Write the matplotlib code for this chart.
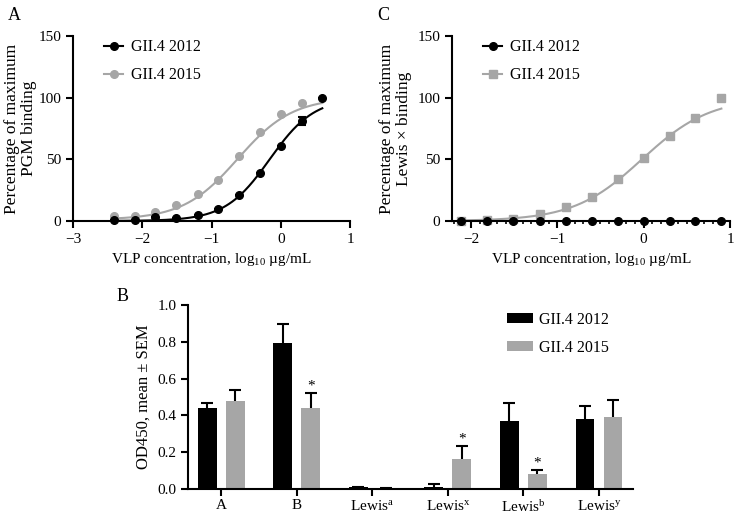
import matplotlib
matplotlib.use('Agg')
import matplotlib.pyplot as plt
import numpy as np

plt.rcParams['font.family'] = ['Liberation Serif', 'DejaVu Serif']
plt.rcParams['mathtext.fontset'] = 'custom'
plt.rcParams['mathtext.rm'] = 'Liberation Serif'
plt.rcParams['mathtext.it'] = 'Liberation Serif:italic'
plt.rcParams['font.size'] = 11

BLACK = '#000000'
GREY = '#a6a6a6'

# panel A: PGM binding
xa = [-2.41, -2.11, -1.81, -1.51, -1.20, -0.90, -0.60, -0.30, 0.0, 0.30, 0.60]
a_2012 = [1.1, 1.1, 3.2, 2.7, 5.1, 10.0, 21.4, 38.9, 60.5, 81.0, 99.5]
a_2012_err = [0, 0, 0, 0, 0, 0, 0, 0, 0, 3.0, 0]
xa_2015 = xa[:10]
a_2015 = [3.8, 4.0, 7.3, 12.7, 21.6, 33.5, 53.0, 72.0, 86.5, 95.7]

# panel C: Lewis x binding
xc = [-2.11, -1.81, -1.51, -1.20, -0.90, -0.60, -0.30, 0.0, 0.30, 0.60, 0.90]
c_2012 = [0, 0, 0, 0, 0, 0, 0, 0, 0, 0, 0]
c_2015 = [0.3, 1.0, 2.0, 6.0, 11.4, 19.5, 34.0, 51.0, 68.6, 83.8, 99.5]

# curve fits (bottom, top, logEC50, hill slope)
fit_a_2012 = (0, 100, -0.16, 1.35)
fit_a_2015 = (1, 100, -0.62, 1.1)
fit_c_2015 = (0, 100, -0.02, 1.1)

# panel B: OD450
groups = ['A', 'B', r'$\mathregular{Lewis^{a}}$', r'$\mathregular{Lewis^{x}}$',
          r'$\mathregular{Lewis^{b}}$', r'$\mathregular{Lewis^{y}}$']
b_2012 = [0.44, 0.796, 0.009, 0.013, 0.369, 0.38]
b_2012_sem = [0.025, 0.103, 0.004, 0.012, 0.099, 0.072]
b_2015 = [0.476, 0.44, 0.004, 0.163, 0.083, 0.389]
b_2015_sem = [0.063, 0.081, 0.001, 0.068, 0.02, 0.096]
signif = [False, True, False, True, True, False]


def hill(x, p):
    bot, top, ec50, h = p
    return bot + (top - bot) / (1 + 10 ** ((ec50 - x) * h))


def style_ax(ax):
    for s in ['top', 'right']:
        ax.spines[s].set_visible(False)
    for s in ['left', 'bottom']:
        ax.spines[s].set_linewidth(1.5)
    ax.tick_params(width=1.5, length=5, labelsize=11)


def up_err(ax, x, y, err):
    # one-sided (upper) error bar, cap only on top
    eb = ax.errorbar(x, y, yerr=[np.zeros(len(err)), err], fmt='none',
                     ecolor=BLACK, elinewidth=1.5, capsize=4, capthick=1.5)
    eb[1][0].set_visible(False)


fig = plt.figure(figsize=(7.35, 5.15), dpi=100)

# ---- A
axA = fig.add_axes([73/735, 1 - 221/515, 277/735, 185/515])
xx = np.linspace(min(xa), max(xa), 200)
axA.plot(xx, hill(xx, fit_a_2015), color=GREY, lw=1.5)
axA.plot(xx, hill(xx, fit_a_2012), color=BLACK, lw=1.5)
axA.errorbar(xa_2015, a_2015, fmt='o', color=GREY, ms=5.5)
axA.errorbar(xa, a_2012, yerr=a_2012_err, fmt='o', color=BLACK, ms=5.5,
             capsize=3, elinewidth=1.5, capthick=1.5)
axA.plot([], [], '-o', color=BLACK, ms=5.5, lw=1.5, label='GII.4 2012')
axA.plot([], [], '-o', color=GREY, ms=5.5, lw=1.5, label='GII.4 2015')
axA.set_xlim(-3, 1)
axA.set_ylim(0, 150)
axA.set_xticks([-3, -2, -1, 0, 1])
axA.set_xticklabels(['\u22123', '\u22122', '\u22121', '0', '1'])
axA.set_yticks([0, 50, 100, 150])
axA.set_xlabel('VLP concentration, log$_{10}$ \u00b5g/mL', fontsize=11)
axA.set_ylabel('Percentage of maximum\nPGM binding', fontsize=12.5,
               linespacing=1.05, labelpad=1)
h, l = axA.get_legend_handles_labels()
axA.legend(h, l, loc='upper left', bbox_to_anchor=(0.06, 1.06), frameon=False,
           handlelength=1.2, labelspacing=0.75, fontsize=11.5, handletextpad=0.5)
style_ax(axA)
for c in axA.collections + axA.lines:
    c.set_clip_on(False)

# ---- C
axC = fig.add_axes([452/735, 1 - 221/515, 278/735, 185/515])
xx = np.linspace(min(xc), max(xc), 200)
axC.plot(xx, hill(xx, fit_c_2015), color=GREY, lw=1.5)
axC.plot(xc, c_2015, 's', color=GREY, ms=5.5, clip_on=False)
axC.plot(xc, c_2012, 'o', color=BLACK, ms=5.5, clip_on=False)
axC.plot([], [], '-o', color=BLACK, ms=5.5, lw=1.5, label='GII.4 2012')
axC.plot([], [], '-s', color=GREY, ms=5.5, lw=1.5, label='GII.4 2015')
axC.set_xlim(-2.22, 1.0)
axC.set_ylim(0, 150)
axC.set_xticks([-2, -1, 0, 1])
axC.set_xticklabels(['\u22122', '\u22121', '0', '1'])
axC.set_xticks(np.arange(-2.2, 1.01, 0.1), minor=True)
axC.set_yticks([0, 50, 100, 150])
axC.set_xlabel('VLP concentration, log$_{10}$ \u00b5g/mL', fontsize=11)
axC.set_ylabel('Percentage of maximum\nLewis \u00d7 binding', fontsize=12.5,
               linespacing=1.05)
axC.legend(loc='upper left', bbox_to_anchor=(0.06, 1.06), frameon=False,
           handlelength=1.2, labelspacing=0.75, fontsize=11.5, handletextpad=0.5)
style_ax(axC)
axC.tick_params(which='minor', length=2.5, width=1.2)

# ---- B
axB = fig.add_axes([188/735, 1 - 489/515, 445/735, 184/515])
pos = np.arange(len(groups))
w = 0.25
off = 0.185
axB.bar(pos - off, b_2012, w, color=BLACK, label='GII.4 2012')
axB.bar(pos + off, b_2015, w, color=GREY, label='GII.4 2015')
up_err(axB, pos - off, b_2012, b_2012_sem)
up_err(axB, pos + off, b_2015, b_2015_sem)
for i in range(len(pos)):
    if signif[i]:
        axB.text(pos[i] + off, b_2015[i] + b_2015_sem[i] + 0.005, '*',
                 ha='center', va='bottom', fontsize=11)
axB.set_xlim(-0.44, 5.45)
axB.set_ylim(0, 1.0)
axB.set_xticks(pos)
axB.set_xticklabels(groups)
axB.set_yticks(np.arange(0, 1.01, 0.2))
axB.set_yticklabels(['%.1f' % v for v in np.arange(0, 1.01, 0.2)])
axB.set_ylabel('OD450, mean \u00b1 SEM', fontsize=12)
axB.legend(loc='upper left', bbox_to_anchor=(0.685, 1.04), frameon=False,
           handlelength=1.6, handleheight=0.6, labelspacing=0.75, fontsize=11.5,
           handletextpad=0.4)
style_ax(axB)
axB.tick_params(axis='x', pad=2)

fig.text(8/735, 1 - 20/515, 'A', fontsize=13)
fig.text(377/735, 1 - 20/515, 'C', fontsize=13)
fig.text(117/735, 1 - 301/515, 'B', fontsize=13)

fig.savefig('out.png', dpi=100)
